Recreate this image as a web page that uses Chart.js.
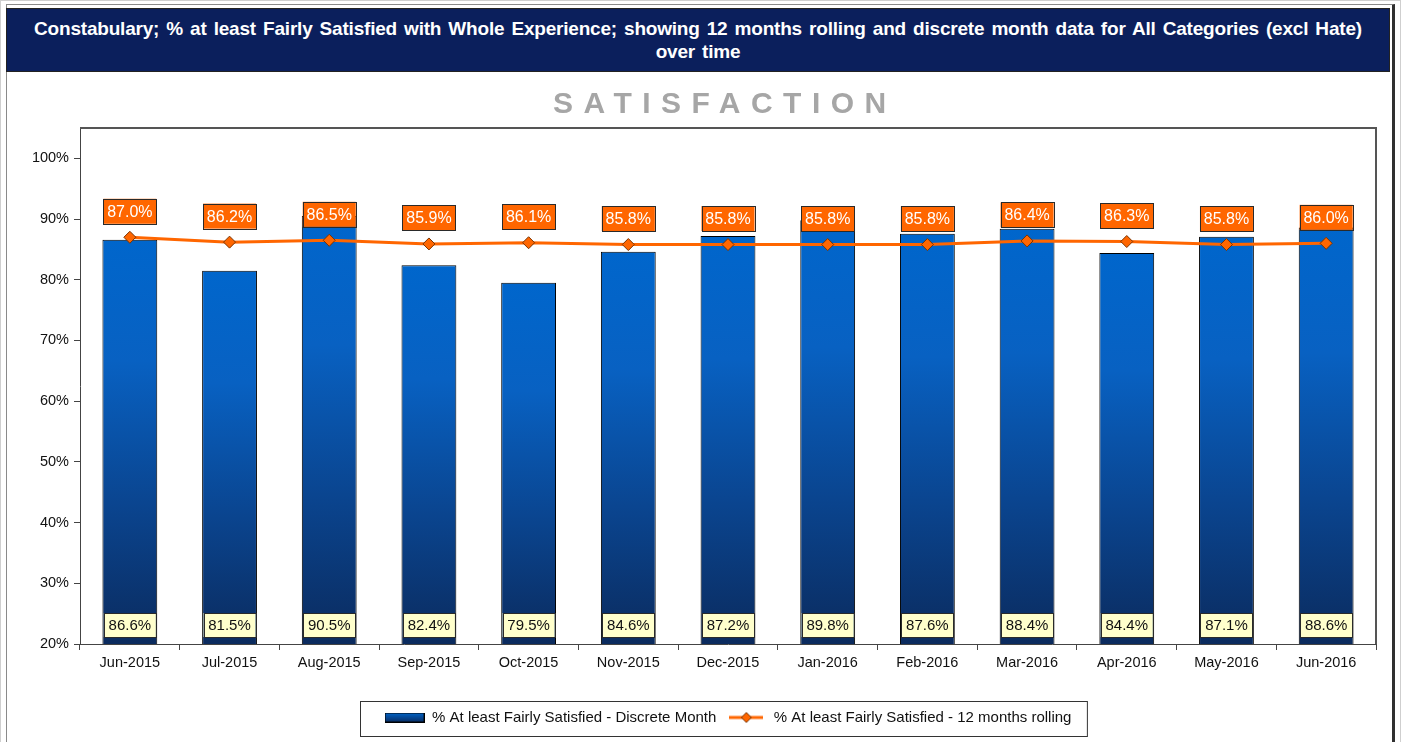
<!DOCTYPE html>
<html>
<head>
<meta charset="utf-8">
<script src="https://cdn.jsdelivr.net/npm/chart.js@4"></script>
<style>
    body { margin: 0; background: #fff; font-family: "Liberation Sans", Arial, sans-serif; }
    #outer { position: absolute; left: 0; top: 0; width: 1399px; height: 760px; border: 1px solid #cfcfcf; }
    #frame { position: absolute; left: 6px; top: 4px; width: 1385px; height: 760px; border-left: 1px solid #8a8a8a; border-top: 1px solid #8a8a8a; border-right: 3px solid #303030; }
    #titleBox {
        position: absolute; left: 6px; top: 8px; width: 1382px; height: 62px;
        background: #0b1f5c; border: 1px solid #222; color: #fff;
        font-weight: bold; font-size: 19px; line-height: 23px; text-align: center;
        z-index: 2;
    }
    #titleBox div { padding-top: 8px; word-spacing: 2px; letter-spacing: -0.2px; }
    #subTitle {
        position: absolute; left: 553px; top: 86px; font-size: 30px; font-weight: bold;
        color: #a6a6a6; letter-spacing: 10.5px; z-index: 2;
    }
    #chartCanvas { position: absolute; left: 0; top: 0; z-index: 1; }
</style>
</head>
<body>
<div id="outer"></div>
<div id="frame"></div>
<div id="titleBox"><div>Constabulary; % at least Fairly Satisfied with Whole Experience; showing 12 months rolling and discrete month data for All Categories (excl Hate)<br>over time</div></div>
<div id="subTitle">SATISFACTION</div>
<canvas id="chartCanvas" width="1401" height="742"></canvas>
<script>
// --- DATOS ---
const months = ['Jun-2015', 'Jul-2015', 'Aug-2015', 'Sep-2015', 'Oct-2015', 'Nov-2015', 'Dec-2015',
    'Jan-2016', 'Feb-2016', 'Mar-2016', 'Apr-2016', 'May-2016', 'Jun-2016'];
const discreteMonth = [86.6, 81.5, 90.5, 82.4, 79.5, 84.6, 87.2, 89.8, 87.6, 88.4, 84.4, 87.1, 88.6];
const rolling12 = [87.0, 86.2, 86.5, 85.9, 86.1, 85.8, 85.8, 85.8, 85.8, 86.4, 86.3, 85.8, 86.0];
const discreteLabel = '% At least Fairly Satisfied - Discrete Month';
const rollingLabel = '% At least Fairly Satisfied - 12 months rolling';

const ORANGE = '#ff6600';
const FONT = '"Liberation Sans", Arial, sans-serif';

// gradiente por barra: azul brillante arriba, azul marino abajo
function barGradient(ctx) {
    const chart = ctx.chart;
    const y = chart.scales.y;
    if (!y || ctx.type !== 'data') return '#0a55b0';
    const top = y.getPixelForValue(ctx.raw);
    const bottom = y.getPixelForValue(y.min);
    const g = chart.ctx.createLinearGradient(0, top, 0, bottom);
    g.addColorStop(0, '#0066cc');
    g.addColorStop(0.3, '#0861c2');
    g.addColorStop(0.65, '#0a4590');
    g.addColorStop(1, '#0b2b5e');
    return g;
}

// muestras de la leyenda
function makeBarSwatch() {
    const c = document.createElement('canvas');
    c.width = 40; c.height = 10;
    const x = c.getContext('2d');
    const g = x.createLinearGradient(0, 0, 0, 10);
    g.addColorStop(0, '#0066cc'); g.addColorStop(1, '#0b2b5e');
    x.fillStyle = g; x.fillRect(0, 0, 40, 10);
    x.strokeStyle = '#000'; x.lineWidth = 1; x.strokeRect(0.5, 0.5, 39, 9);
    return c;
}
function makeLineSwatch() {
    const c = document.createElement('canvas');
    c.width = 34; c.height = 12;
    const x = c.getContext('2d');
    x.strokeStyle = ORANGE; x.lineWidth = 3;
    x.beginPath(); x.moveTo(0, 6); x.lineTo(34, 6); x.stroke();
    x.fillStyle = ORANGE; x.strokeStyle = '#7a3300'; x.lineWidth = 1;
    x.beginPath(); x.moveTo(17, 1); x.lineTo(22, 6); x.lineTo(17, 11); x.lineTo(12, 6); x.closePath();
    x.fill(); x.stroke();
    return c;
}

function drawLabelBox(ctx, text, cx, cy, w, h, fill, color) {
    ctx.fillStyle = fill;
    ctx.fillRect(cx - w / 2, cy - h / 2, w, h);
    ctx.strokeStyle = '#2a2a2a';
    ctx.lineWidth = 1;
    ctx.strokeRect(Math.round(cx - w / 2) + 0.5, Math.round(cy - h / 2) + 0.5, w, h);
    ctx.fillStyle = color;
    ctx.textAlign = 'center';
    ctx.textBaseline = 'middle';
    ctx.fillText(text, cx, cy + 1);
}

const labelsPlugin = {
    id: 'valueLabels',
    beforeDatasetsDraw(chart) {
        // borde superior y derecho del área de trazado
        const { ctx, chartArea: a } = chart;
        ctx.save();
        ctx.strokeStyle = '#555';
        ctx.lineWidth = 2;
        ctx.beginPath();
        ctx.moveTo(a.left, a.top);
        ctx.lineTo(a.right, a.top);
        ctx.lineTo(a.right, a.bottom);
        ctx.stroke();
        ctx.restore();
    },
    afterDatasetsDraw(chart) {
        const ctx = chart.ctx;
        ctx.save();
        ctx.font = '15px ' + FONT;
        const barMeta = chart.getDatasetMeta(0);
        barMeta.data.forEach((bar, i) => {
            drawLabelBox(ctx, discreteMonth[i].toFixed(1) + '%', bar.x, 625, 52, 24, '#ffffcc', '#111');
        });
        ctx.font = '16px ' + FONT;
        const lineMeta = chart.getDatasetMeta(1);
        lineMeta.data.forEach((pt, i) => {
            drawLabelBox(ctx, rolling12[i].toFixed(1) + '%', pt.x, pt.y - 26, 53, 25, ORANGE, '#fff');
        });
        ctx.restore();
    },
    afterDraw(chart) {
        // recuadro de la leyenda
        const boxes = chart.legend.legendHitBoxes;
        if (!boxes || !boxes.length) return;
        const left = Math.min(...boxes.map(b => b.left)) - 25;
        const right = Math.max(...boxes.map(b => b.left + b.width)) + 15;
        const cy = boxes[0].top + boxes[0].height / 2;
        const ctx = chart.ctx;
        ctx.save();
        ctx.strokeStyle = '#333';
        ctx.lineWidth = 1;
        ctx.strokeRect(Math.round(left) + 0.5, Math.round(cy - 17) + 0.5, right - left, 35);
        ctx.restore();
    }
};

const barSwatch = makeBarSwatch();
const lineSwatch = makeLineSwatch();

new Chart(document.getElementById('chartCanvas'), {
    type: 'bar',
    data: {
        labels: months,
        datasets: [
            {
                type: 'bar',
                label: discreteLabel,
                data: discreteMonth,
                backgroundColor: barGradient,
                borderColor: '#000',
                borderWidth: 1,
                borderSkipped: false,
                barPercentage: 0.55,
                categoryPercentage: 1,
                order: 1
            },
            {
                type: 'line',
                label: rollingLabel,
                data: rolling12,
                borderColor: ORANGE,
                borderWidth: 3,
                pointStyle: 'rectRot',
                pointRadius: 6,
                pointBackgroundColor: ORANGE,
                pointBorderColor: '#7a3300',
                pointBorderWidth: 1,
                tension: 0,
                order: 0
            }
        ]
    },
    options: {
        responsive: false,
        animation: false,
        layout: { padding: { left: 0, top: 128, right: 25, bottom: 7 } },
        scales: {
            x: {
                offset: true,
                grid: { display: true, offset: true, drawOnChartArea: false, tickLength: 6, color: '#444' },
                border: { display: true, color: '#444', width: 1 },
                ticks: { color: '#111', font: { family: FONT, size: 14.5 }, padding: 4, maxRotation: 0 },
                afterFit: s => { s.height = 56; }
            },
            y: {
                min: 20,
                max: 105,
                ticks: {
                    stepSize: 10,
                    color: '#111',
                    font: { family: FONT, size: 14.5 },
                    padding: 5,
                    callback: v => v + '%'
                },
                afterBuildTicks: s => { s.ticks = s.ticks.filter(t => t.value <= 100); },
                grid: { display: true, drawOnChartArea: false, tickLength: 6, color: '#444' },
                border: { display: true, color: '#444', width: 1 },
                afterFit: s => { s.width = 80; }
            }
        },
        plugins: {
            title: { display: false },
            tooltip: { enabled: false },
            legend: {
                position: 'bottom',
                fullSize: false,
                labels: {
                    usePointStyle: true,
                    pointStyleWidth: 40,
                    padding: 10,
                    color: '#111',
                    font: { family: FONT, size: 15 },
                    generateLabels: () => [
                        { text: discreteLabel, pointStyle: barSwatch, datasetIndex: 0, fontColor: '#111', lineWidth: 0, hidden: false },
                        { text: rollingLabel, pointStyle: lineSwatch, datasetIndex: 1, fontColor: '#111', lineWidth: 0, hidden: false }
                    ]
                }
            }
        }
    },
    plugins: [labelsPlugin]
});
</script>
</body>
</html>
